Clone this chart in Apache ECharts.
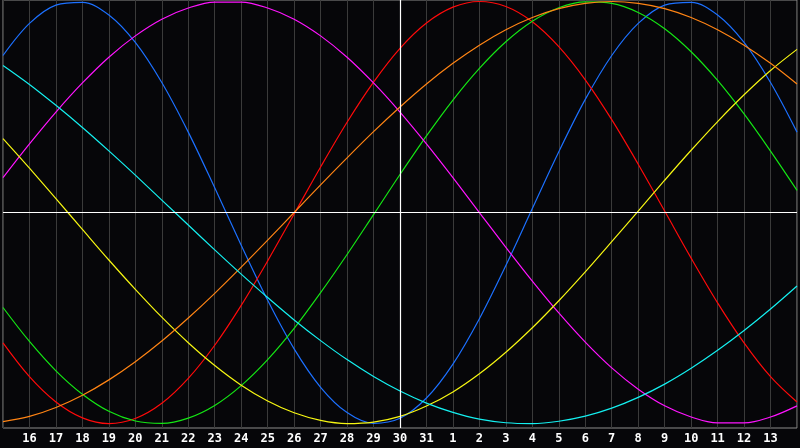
<!DOCTYPE html>
<html>
<head>
<meta charset="utf-8">
<script src="https://cdn.jsdelivr.net/npm/echarts@6/dist/echarts.min.js"></script>
<style>
html,body{margin:0;padding:0;background:#060609;}
#c{width:800px;height:448px;}
</style>
</head>
<body>
<div id="c"></div>
<script>
var days = ['15','16','17','18','19','20','21','22','23','24','25','26','27','28','29','30','31',
            '1','2','3','4','5','6','7','8','9','10','11','12','13','14'];

var physical     = [74.4,89.6,98.3,99.6,93.6,80.6,61.6,38.1,11.7,-15.5,-41.6,-64.6,-82.8,-94.8,-99.9,-97.5,-87.9,-71.8,-50.3,-25.1,1.9,28.8,53.6,74.4,89.6,98.3,99.6,93.6,80.6,61.6,38.1];
var emotional    = [-61.8,-77.8,-89.8,-97.3,-100,-97.6,-90.4,-78.6,-62.9,-44.0,-22.9,-0.7,21.6,42.8,61.8,77.8,89.8,97.3,100,97.6,90.4,78.6,62.9,44.0,22.9,0.7,-21.6,-42.8,-61.8,-77.8,-89.8];
var intellectual = [-45.0,-61.1,-75.0,-86.1,-94.2,-98.8,-99.9,-97.4,-91.4,-82.0,-69.7,-54.9,-38.0,-19.9,-1.0,18.0,36.3,53.3,68.3,80.9,90.6,97.0,99.8,99.1,94.8,87.1,76.2,62.6,46.7,29.1,10.5];
var intuitive    = [16.5,32.5,47.6,61.4,73.6,83.7,91.6,96.9,99.7,99.7,96.9,91.6,83.7,73.6,61.4,47.6,32.5,16.5,0,-16.5,-32.5,-47.6,-61.4,-73.6,-83.7,-91.6,-96.9,-99.7,-99.7,-96.9,-91.6];
var aesthetic    = [35.0,21.0,6.6,-8.0,-22.5,-36.4,-49.6,-61.7,-72.5,-81.8,-89.3,-94.9,-98.5,-100,-99.3,-96.6,-91.7,-85.0,-76.4,-66.2,-54.6,-41.8,-28.1,-13.8,0.7,15.3,29.5,43.1,55.8,67.3,77.3];
var awareness    = [-99.1,-96.6,-92.4,-86.6,-79.3,-70.7,-60.9,-50.0,-38.3,-25.9,-13.1,0,13.1,25.9,38.3,50.0,60.9,70.7,79.3,86.6,92.4,96.6,99.1,100,99.1,96.6,92.4,86.6,79.3,70.7,60.9];
var spiritual    = [69.7,60.7,50.8,40.3,29.2,17.7,5.9,-5.9,-17.7,-29.2,-40.3,-50.9,-60.7,-69.7,-77.7,-84.6,-90.3,-94.7,-97.9,-99.6,-100,-98.9,-96.5,-92.7,-87.6,-81.3,-73.8,-65.3,-55.9,-45.7,-34.8];

var centerDay = '30';

var seriesDefs = [
  {name:'Physical', data:physical, color:'#1c70ff'},
  {name:'Emotional', data:emotional, color:'#ff0a0a'},
  {name:'Intellectual', data:intellectual, color:'#14e614'},
  {name:'Intuitive', data:intuitive, color:'#ff14ff'},
  {name:'Aesthetic', data:aesthetic, color:'#f6f612'},
  {name:'Awareness', data:awareness, color:'#ff8414'},
  {name:'Spiritual', data:spiritual, color:'#14f0f0'}
];

var chart = echarts.init(document.getElementById('c'), null, {renderer:'canvas'});

var series = seriesDefs.map(function(s){
  return {
    name: s.name,
    type: 'line',
    data: s.data,
    smooth: 0.34,
    symbol: 'none',
    lineStyle: {color: s.color, width: 1.2},
    itemStyle: {color: s.color},
    z: 3
  };
});
series.unshift({
  name: 'axes',
  type: 'line',
  data: [],
  z: 2,
  markLine: {
    silent: true,
    symbol: 'none',
    label: {show: false},
    lineStyle: {color: '#ffffff', type: 'solid', width: 1.2},
    data: [{yAxis: 0}, {xAxis: centerDay}]
  }
});

chart.setOption({
  animation: false,
  backgroundColor: '#060609',
  grid: {
    left: 0, top: 0, right: 1, bottom: 20,
    show: true,
    borderColor: '#8c8c8c',
    borderWidth: 1,
    backgroundColor: 'transparent'
  },
  xAxis: {
    type: 'category',
    data: days,
    boundaryGap: false,
    axisLine: {show: false},
    axisTick: {show: false},
    splitLine: {show: true, interval: 0, lineStyle: {color: '#3a3a3a', width: 1}},
    axisLabel: {
      interval: 0,
      margin: 5,
      color: '#ffffff',
      fontFamily: 'DejaVu Sans Mono',
      fontWeight: 'bold',
      fontSize: 12,
      formatter: function(v, idx){ return (idx === 0 || idx === days.length - 1) ? '' : v; }
    }
  },
  yAxis: {
    type: 'value',
    min: -102.1,
    max: 100.7,
    axisLine: {show: false},
    axisTick: {show: false},
    axisLabel: {show: false},
    splitLine: {show: false}
  },
  series: series
});
</script>
</body>
</html>
